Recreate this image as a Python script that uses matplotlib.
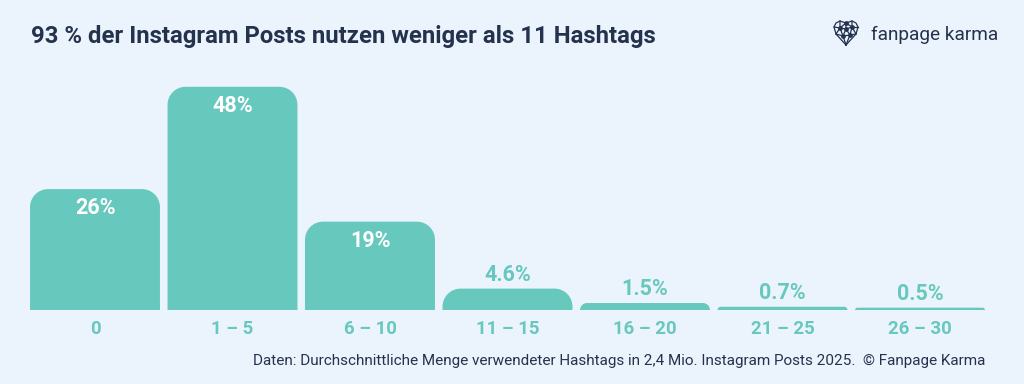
import matplotlib
matplotlib.use("Agg")
import matplotlib.pyplot as plt
from matplotlib.path import Path
from matplotlib.patches import PathPatch
from matplotlib.lines import Line2D

categories = ["0", "1 – 5", "6 – 10", "11 – 15", "16 – 20", "21 – 25", "26 – 30"]
values = [26, 48, 19, 4.6, 1.5, 0.7, 0.5]
value_labels = ["26%", "48%", "19%", "4.6%", "1.5%", "0.7%", "0.5%"]
title = "93 % der Instagram Posts nutzen weniger als 11 Hashtags"
source = "Daten: Durchschnittliche Menge verwendeter Hashtags in 2,4 Mio. Instagram Posts 2025.  © Fanpage Karma"
brand = "fanpage karma"

BG = "#EBF4FD"
TEAL = "#67C8BE"
NAVY = "#25324D"

plt.rcParams['font.family'] = ['Roboto', 'DejaVu Sans']

W, H = 1024, 384
fig = plt.figure(figsize=(W / 100, H / 100), dpi=100, facecolor=BG)

# axes in pixel layout
x0, x1 = 26.25, 988.75
ybase, ytop = 310, 80
ax = fig.add_axes([x0 / W, (H - ybase) / H, (x1 - x0) / W, (ybase - ytop) / H])
ax.set_facecolor(BG)
n = len(categories)
ax.set_xlim(-0.5, n - 0.5)
ymax = (ybase - ytop) / 4.65
ax.set_ylim(0, ymax)
for s in ax.spines.values():
    s.set_visible(False)
ax.set_yticks([])
ax.set_xticks(range(n))
ax.set_xticklabels(categories, fontsize=13.4, fontweight='bold', color=TEAL)
ax.tick_params(axis='x', length=0, pad=7)

px_x = (x1 - x0) / n  # pixels per x unit
px_y = (ybase - ytop) / ymax  # pixels per y unit
bw = 0.945
r_px = 18

def rounded_bar(xc, h):
    left, right = xc - bw / 2, xc + bw / 2
    hp = h * px_y
    r = min(r_px, hp)
    rx = r / px_x
    ry = r / px_y
    k = 0.5523
    verts = [
        (left, 0), (left, h - ry),
        (left, h - ry + k * ry), (left + rx - k * rx, h), (left + rx, h),
        (right - rx, h),
        (right - rx + k * rx, h), (right, h - ry + k * ry), (right, h - ry),
        (right, 0), (left, 0),
    ]
    codes = [Path.MOVETO, Path.LINETO,
             Path.CURVE4, Path.CURVE4, Path.CURVE4,
             Path.LINETO,
             Path.CURVE4, Path.CURVE4, Path.CURVE4,
             Path.LINETO, Path.CLOSEPOLY]
    return PathPatch(Path(verts, codes), facecolor=TEAL, edgecolor='none')

for i, (v, lab) in enumerate(zip(values, value_labels)):
    ax.add_patch(rounded_bar(i, v))
    if v > 10:
        ax.annotate(lab, (i, v), xytext=(0, -19), textcoords='offset pixels',
                    ha='center', va='center', fontsize=15.5, fontweight='bold', color='white')
    else:
        ax.annotate(lab, (i, v), xytext=(0, 3), textcoords='offset pixels',
                    ha='center', va='bottom', fontsize=15.5, fontweight='bold', color=TEAL)

fig.text(31 / W, 1 - 36 / H, title, fontsize=17.2, fontweight='bold', color=NAVY,
         ha='left', va='center')
fig.text(985 / W, 1 - 361 / H, source, fontsize=11, color=NAVY, ha='right', va='center')
fig.text(871 / W, 1 - 35 / H, brand, fontsize=13.7, color=NAVY, ha='left', va='center')

# heart icon (logo decoration)
def fp(x, y):
    return (x / W, 1 - y / H)
outline = [(846, 45), (836, 34), (834, 27), (836, 23), (840, 21), (846, 23),
           (852, 21), (856, 23), (858, 27), (856, 34), (846, 45)]
inner = [[(840, 21), (840, 28), (846, 23)], [(840, 28), (834, 27)], [(840, 28), (836, 34)],
         [(840, 28), (846, 29), (846, 23)], [(846, 29), (852, 27), (852, 21)],
         [(852, 27), (858, 27)], [(852, 27), (856, 34)], [(846, 23), (852, 27)],
         [(840, 28), (843, 36), (846, 29)], [(846, 29), (850, 35), (852, 27)],
         [(843, 36), (850, 35)], [(843, 36), (846, 45)], [(850, 35), (846, 45)],
         [(836, 34), (843, 36)], [(856, 34), (850, 35)]]
for seg in [outline] + inner:
    xs, ys = zip(*[fp(x, y) for x, y in seg])
    fig.add_artist(Line2D(xs, ys, color=NAVY, lw=0.9, transform=fig.transFigure))
for (x, y) in [(840, 28), (846, 29), (852, 27), (843, 36), (850, 35), (846, 23)]:
    xx, yy = fp(x, y)
    fig.add_artist(Line2D([xx], [yy], marker='o', ms=2.4, color=NAVY, transform=fig.transFigure))

fig.savefig("out.png", dpi=100, facecolor=BG)
